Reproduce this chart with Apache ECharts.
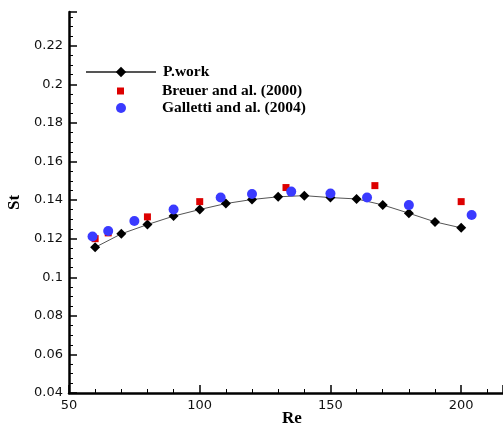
<!DOCTYPE html>
<html>
<head>
<meta charset="utf-8">
<script src="https://cdn.jsdelivr.net/npm/echarts@6/dist/echarts.min.js"></script>
<style>
  html, body { margin: 0; padding: 0; background: #fff; }
  #chart { width: 503px; height: 426px; }
</style>
</head>
<body>
<div id="chart"></div>
<script>
// Strouhal number vs Reynolds number
const presentRe = [60, 70, 80, 90, 100, 110, 120, 130, 140, 150, 160, 170, 180, 190, 200];
const presentSt = [0.1155, 0.1225, 0.1273, 0.1317, 0.1351, 0.1382, 0.1403, 0.1417, 0.1423, 0.1413, 0.1406, 0.1375, 0.1332, 0.1287, 0.1256];

const breuerRe = [60, 65, 80, 100, 133, 167, 200];
const breuerSt = [0.1200, 0.1230, 0.1313, 0.1392, 0.1465, 0.1475, 0.1392];

const gallettiRe = [59, 65, 75, 90, 108, 120, 135, 150, 164, 180, 204];
const gallettiSt = [0.1211, 0.1240, 0.1292, 0.1351, 0.1413, 0.1432, 0.1444, 0.1434, 0.1413, 0.1374, 0.1323];

const seriesNames = ['P.work', 'Breuer and al. (2000)', 'Galletti and al. (2004)'];

const pairs = (xs, ys) => xs.map((x, i) => [x, ys[i]]);

const tickFont = { fontFamily: 'DejaVu Sans', fontSize: 13, color: '#111' };
const legendFont = { fontFamily: 'Liberation Serif', fontWeight: 'bold', fontSize: 15.5, color: '#000' };

const chart = echarts.init(document.getElementById('chart'), null, { renderer: 'canvas' });

chart.setOption({
  animation: false,
  backgroundColor: '#fff',
  grid: { left: 69, right: 0, top: 12, bottom: 33, containLabel: false, outerBoundsMode: 'none' },
  legend: [
    {
      data: [seriesNames[0]], left: 80, top: 59, orient: 'vertical',
      itemWidth: 70, itemHeight: 13, textStyle: Object.assign({ padding: [0, 0, 0, 2] }, legendFont)
    },
    {
      data: [seriesNames[1]], left: 112, top: 78, orient: 'vertical',
      itemWidth: 7, itemHeight: 7, textStyle: Object.assign({ padding: [0, 0, 0, 33] }, legendFont)
    },
    {
      data: [seriesNames[2]], left: 111, top: 95, orient: 'vertical',
      itemWidth: 10, itemHeight: 10, textStyle: Object.assign({ padding: [0, 0, 0, 31] }, legendFont)
    }
  ],
  xAxis: {
    type: 'value', min: 50, max: 216, interval: 50,
    name: 'Re', nameLocation: 'middle', nameGap: 17, nameMoveOverlap: false,
    nameTextStyle: { fontFamily: 'Liberation Serif', fontWeight: 'bold', fontSize: 17, color: '#000', padding: [0, 0, 0, 12] },
    axisLine: { lineStyle: { color: '#000', width: 2.5 } },
    axisTick: { inside: true, length: 8, lineStyle: { color: '#000', width: 1.5 } },
    minorTick: { show: true, splitNumber: 5, length: 4, lineStyle: { color: '#000', width: 1 } },
    axisLabel: Object.assign({ margin: 6, showMaxLabel: false }, tickFont),
    splitLine: { show: false }
  },
  yAxis: {
    type: 'value', min: 0.04, max: 0.2375, interval: 0.02,
    name: 'St', nameLocation: 'middle', nameGap: 46, nameMoveOverlap: false,
    nameTextStyle: { fontFamily: 'Liberation Serif', fontWeight: 'bold', fontSize: 17, color: '#000' },
    axisLine: { lineStyle: { color: '#000', width: 2.5 } },
    axisTick: { inside: true, length: 8, lineStyle: { color: '#000', width: 1.5 } },
    minorTick: { show: true, splitNumber: 4, length: 4, lineStyle: { color: '#000', width: 1 } },
    axisLabel: Object.assign({ margin: 6, showMaxLabel: false, formatter: v => String(+v.toFixed(2)) }, tickFont),
    splitLine: { show: false }
  },
  series: [
    {
      name: seriesNames[0], type: 'line', data: pairs(presentRe, presentSt),
      symbol: 'diamond', symbolSize: 10, z: 3,
      itemStyle: { color: '#000' },
      lineStyle: { color: '#555', width: 1 }
    },
    {
      name: seriesNames[1], type: 'scatter', data: pairs(breuerRe, breuerSt),
      symbol: 'rect', symbolSize: 7, z: 4,
      itemStyle: { color: '#dd0000', opacity: 1 }
    },
    {
      name: seriesNames[2], type: 'scatter', data: pairs(gallettiRe, gallettiSt),
      symbol: 'circle', symbolSize: 10, z: 5,
      itemStyle: { color: '#3a3aff', opacity: 1 }
    }
  ]
});
</script>
</body>
</html>
